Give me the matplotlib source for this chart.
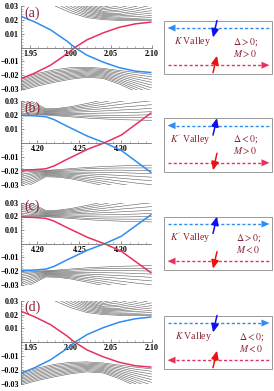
import matplotlib
matplotlib.use("Agg")
import matplotlib.pyplot as plt
import numpy as np
from matplotlib.patches import Rectangle, Polygon
from matplotlib.ticker import FixedLocator, MultipleLocator

nan = np.nan

# ---------------- data (energies in units of 1e-3) ----------------
# K valley panels (a), (d)
k_edge_x = [1.938, 1.955, 1.975, 1.995, 2.005, 2.02, 2.04, 2.06, 2.08, 2.10]
k_edge_fall = [22.5, 18.5, 12.7, 4.7, 0.0, -5.5, -10.5, -14.5, -17.0, -18.0]
k_edge_rise = [-22.5, -18.5, -12.7, -4.7, 0.0, 5.5, 10.5, 14.5, 17.0, 18.3]

k_band_x = [1.938, 1.96, 1.98, 2.00, 2.02, 2.04, 2.06, 2.08, 2.10]
k_upper = [
    [nan, 36.0, 30.0, 25.0, 21.5, 20.0, 19.5, 19.3, 19.3],
    [nan, 38.0, 32.0, 26.5, 22.5, 20.8, 20.2, 20.0, 20.3],
    [nan, nan, 34.0, 28.0, 23.5, 21.5, 21.0, 21.0, 21.5],
    [nan, nan, 36.0, 29.5, 24.5, 22.3, 21.8, 22.2, 23.0],
    [nan, nan, 38.0, 31.0, 25.5, 23.0, 22.7, 23.5, 24.8],
    [nan, nan, nan, 32.5, 26.5, 23.8, 23.6, 24.8, 26.5],
    [nan, nan, nan, 34.0, 27.5, 24.5, 24.6, 26.2, 28.5],
    [nan, nan, nan, 35.5, 28.5, 25.3, 25.8, 27.8, 30.5],
    [nan, nan, nan, 37.0, 29.5, 26.0, 27.0, 29.5, 32.5],
    [nan, nan, nan, 38.5, 30.5, 27.0, 28.5, 31.5, 35.0],
    [nan, nan, nan, nan, 31.5, 28.0, 30.0, 33.5, nan],
    [nan, nan, nan, nan, 33.0, 29.0, 31.5, 35.5, nan],
]
k_lower = [
    [-22.0, -18.5, -16.0, -14.5, -14.2, -15.0, -16.5, -18.0, -19.3],
    [-23.0, -19.5, -17.0, -15.5, -15.0, -15.8, -17.5, -19.5, -21.0],
    [-24.0, -20.5, -18.0, -16.5, -15.8, -16.6, -18.6, -21.0, -23.0],
    [-25.0, -21.5, -19.0, -17.4, -16.6, -17.4, -19.7, -22.5, -25.0],
    [-26.0, -22.5, -20.0, -18.3, -17.4, -18.2, -20.8, -24.0, -27.0],
    [-27.0, -23.5, -21.0, -19.2, -18.2, -19.0, -21.9, -25.5, -29.0],
    [-28.0, -24.5, -22.0, -20.1, -19.0, -19.8, -23.0, -27.0, -31.0],
    [-29.0, -25.5, -23.0, -21.0, -19.8, -20.6, -24.1, -28.5, -33.0],
    [-30.0, -26.5, -24.0, -21.9, -20.6, -21.4, -25.2, -30.0, -35.0],
    [-31.0, -27.5, -25.0, -22.8, -21.4, -22.2, -26.3, -31.5, nan],
]

# K' valley panels (b), (c)
kp_edge_x = [4.18, 4.195, 4.21, 4.22, 4.235, 4.26, 4.28, 4.30, 4.318, 4.336]
kp_edge_fall = [19.5, 19.3, 18.6, 16.5, 11.9, 4.6, 0.0, -5.5, -13.5, -21.5]
kp_edge_rise = [-19.5, -19.3, -18.6, -16.5, -11.9, -4.6, 0.0, 5.5, 13.5, 21.5]

kp_band_x = [4.18, 4.195, 4.21, 4.225, 4.24, 4.26, 4.28, 4.30, 4.32, 4.336]
kp_upper = [
    [20.0, 20.0, 19.8, 19.2, 18.5, 17.6, 17.0, 16.5, 16.2, 16.0],
    [21.0, 20.6, 20.2, 19.8, 19.3, 18.6, 18.2, 18.0, 18.0, 18.0],
    [22.5, 21.3, 20.6, 20.4, 20.2, 19.8, 19.6, 19.6, 19.8, 20.0],
    [24.0, 22.2, 21.0, 21.0, 21.0, 21.0, 21.2, 21.4, 21.8, 22.2],
    [25.5, 23.2, 21.5, 21.6, 21.8, 22.2, 22.8, 23.4, 24.0, 24.6],
    [27.0, 24.2, 22.0, 22.2, 22.6, 23.4, 24.4, 25.4, 26.4, 27.2],
    [28.5, 25.3, 22.5, 22.8, 23.4, 24.6, 26.0, 27.5, 29.0, 30.0],
    [30.0, 26.5, 23.0, 23.4, 24.2, 25.8, 27.6, 29.6, 31.6, nan],
    [31.5, 27.8, 23.6, 24.0, 25.0, 27.0, 29.2, 31.8, nan, nan],
    [33.0, 29.0, 24.3, 24.6, 25.8, 28.2, 30.8, 34.0, nan, nan],
]
kp_lower = [
    [-20.0, -20.0, -19.8, -19.2, -18.5, -17.6, -17.0, -16.5, -16.2, -16.0],
    [-21.0, -20.6, -20.2, -19.8, -19.3, -18.6, -18.2, -18.0, -18.0, -18.0],
    [-22.5, -21.3, -20.6, -20.4, -20.2, -19.8, -19.6, -19.6, -19.8, -20.0],
    [-24.0, -22.2, -21.0, -21.0, -21.0, -21.0, -21.2, -21.4, -21.8, -22.2],
    [-25.5, -23.2, -21.5, -21.6, -21.8, -22.2, -22.8, -23.4, -24.0, -24.6],
    [-27.0, -24.2, -22.0, -22.2, -22.6, -23.4, -24.4, -25.4, -26.4, -27.2],
    [-28.5, -25.3, -22.5, -22.8, -23.4, -24.6, -26.0, -27.5, -29.0, -30.0],
    [-30.0, -26.5, -23.0, -23.4, -24.2, -25.8, -27.6, -29.6, -31.6, nan],
    [-31.5, -27.8, -23.6, -24.0, -25.0, -27.0, -29.2, -31.8, nan, nan],
    [-33.0, -29.0, -24.3, -24.6, -25.8, -28.2, -30.8, -34.0, nan, nan],
]

panel_labels = ["(a)", "(b)", "(c)", "(d)"]
k_xticks = [1.95, 2.00, 2.05, 2.10]
kp_xticks = [4.20, 4.25, 4.30]
y_ticks = [-0.03, -0.02, -0.01, 0.01, 0.02, 0.03]

# box legend contents
valley_text = ["$K$ Valley", "$K'$ Valley", "$K'$ Valley", "$K$ Valley"]
delta_text = [r"$\Delta > 0$;", r"$\Delta < 0$;", r"$\Delta > 0$;", r"$\Delta < 0$;"]
m_text = ["$M > 0$", "$M > 0$", "$M < 0$", "$M < 0$"]
blue_dir = [-1, -1, 1, 1]      # propagation direction of blue edge state
blue_spin = [-1, 1, 1, -1]     # spin orientation
red_dir = [1, 1, -1, -1]
red_spin = [1, -1, -1, 1]

# ---------------- styling ----------------
BLUE = "#2f8cf0"
RED = "#e8305e"
TXT = "#8b2030"
W, H = 274, 391
plt.rcParams["font.family"] = ["Liberation Serif", "DejaVu Serif"]
plt.rcParams["mathtext.fontset"] = "stix"

fig = plt.figure(figsize=(W / 100, H / 100), dpi=100)

# pixel layout of the band panels (left, right, top, bottom)
ax_left, ax_right = 20.7, 151.5
ax_tops = [5.5, 100.5, 202.5, 300.5]
ax_bots = [89.5, 185.0, 285.0, 384.0]

panels = [
    (k_edge_x, k_edge_fall, k_edge_rise, k_band_x, k_upper, k_lower, k_xticks, (1.938, 2.10)),
    (kp_edge_x, kp_edge_fall, kp_edge_rise, kp_band_x, kp_upper, kp_lower, kp_xticks, (4.18, 4.336)),
    (kp_edge_x, kp_edge_rise, kp_edge_fall, kp_band_x, kp_upper, kp_lower, kp_xticks, (4.18, 4.336)),
    (k_edge_x, k_edge_rise, k_edge_fall, k_band_x, k_upper, k_lower, k_xticks, (1.938, 2.10)),
]

for i, (ex, blue, red, bx, upper, lower, xt, xl) in enumerate(panels):
    top, bot = ax_tops[i], ax_bots[i]
    ax = fig.add_axes([ax_left / W, 1 - bot / H, (ax_right - ax_left) / W, (bot - top) / H])
    ax.patch.set_alpha(0)
    for line in upper + lower:
        ax.plot(bx, np.array(line) / 1000, color="0.35", lw=0.4)
    ax.plot(ex, np.array(blue) / 1000, color=BLUE, lw=1.1, solid_capstyle="butt")
    ax.plot(ex, np.array(red) / 1000, color=RED, lw=1.1, solid_capstyle="butt")
    ax.set_xlim(*xl)
    ax.set_ylim(-0.0302, 0.0302)
    for s in ("top", "right"):
        ax.spines[s].set_visible(False)
    ax.spines["bottom"].set_position(("data", 0))
    for s in ("left", "bottom"):
        ax.spines[s].set_color("0.45")
        ax.spines[s].set_linewidth(0.6)
    ax.xaxis.set_major_locator(FixedLocator(xt))
    ax.xaxis.set_minor_locator(MultipleLocator(0.01))
    ax.yaxis.set_major_locator(FixedLocator(y_ticks))
    ax.yaxis.set_minor_locator(MultipleLocator(0.002))
    ax.set_xticklabels([f"{v:.2f}" for v in xt])
    ax.set_yticklabels([f"{v:.2f}".replace("-", "\u2212") for v in y_ticks])
    ax.tick_params(which="major", direction="in", length=2.2, width=0.5, color="0.4",
                   labelsize=5.8, pad=1.5)
    ax.tick_params(which="minor", direction="in", length=1.1, width=0.4, color="0.5")
    for lab in ax.get_xticklabels() + ax.get_yticklabels():
        lab.set_fontweight("bold")

# overlay in pixel coordinates for labels and legend boxes
ov = fig.add_axes([0, 0, 1, 1])
ov.set_xlim(0, W)
ov.set_ylim(H, 0)
ov.axis("off")

label_y = [13, 108.5, 206, 307]
for i, lab in enumerate(panel_labels):
    ov.text(24, label_y[i], lab, color=TXT, fontsize=10, ha="left", va="center")

box_tops = [20.7, 118.3, 216.7, 315.7]
box_l, box_r, box_h = 164, 272, 53.5
delta_x = [233, 233, 236, 239]
valley_x = [173.5, 170, 169.5, 175]


def dashed_arrow(y, direction, color):
    x0, x1 = 167.5, 269.5
    head = 8
    if direction > 0:
        ov.plot([x0, x1 - head], [y, y], color=color, lw=1.0, ls=(0, (2.2, 1.6)))
        ov.add_patch(Polygon([[x1, y], [x1 - head, y - 3.5], [x1 - head, y + 3.5]],
                             closed=True, color=color, lw=0))
    else:
        ov.plot([x0 + head, x1], [y, y], color=color, lw=1.0, ls=(0, (2.2, 1.6)))
        ov.add_patch(Polygon([[x0, y], [x0 + head, y - 3.5], [x0 + head, y + 3.5]],
                             closed=True, color=color, lw=0))


def spin_arrow(x, y, spin, color):
    # slanted spin arrow crossing the dashed line
    ya, yb = y + 8.5, y - 8.5
    xa, xb = x - 2, x + 2
    if spin > 0:
        start, end = (xa, ya), (xb, yb)
    else:
        start, end = (xb, yb), (xa, ya)
    ov.annotate("", xy=end, xytext=start,
                arrowprops=dict(arrowstyle="-|>,head_length=0.5,head_width=0.22",
                                color=color, lw=1.1, shrinkA=0, shrinkB=0))


for i in range(4):
    t = box_tops[i]
    ov.add_patch(Rectangle((box_l, t), box_r - box_l, box_h, fill=False,
                           edgecolor="0.6", lw=0.7))
    yb = t + 7.3
    yr = t + 44.5
    dashed_arrow(yb, blue_dir[i], BLUE)
    dashed_arrow(yr, red_dir[i], RED)
    spin_arrow(215, yb + 1, blue_spin[i], "#1010ee")
    spin_arrow(215, yr - 1, red_spin[i], "#ee1010")
    ov.text(valley_x[i], t + 21, valley_text[i], color=TXT, fontsize=7,
            ha="left", va="center")
    ov.text(delta_x[i], t + 21, delta_text[i], color=TXT, fontsize=7,
            ha="left", va="center")
    ov.text(delta_x[i], t + 32.6, m_text[i], color=TXT, fontsize=7,
            ha="left", va="center")

fig.savefig("out.png", dpi=100)
